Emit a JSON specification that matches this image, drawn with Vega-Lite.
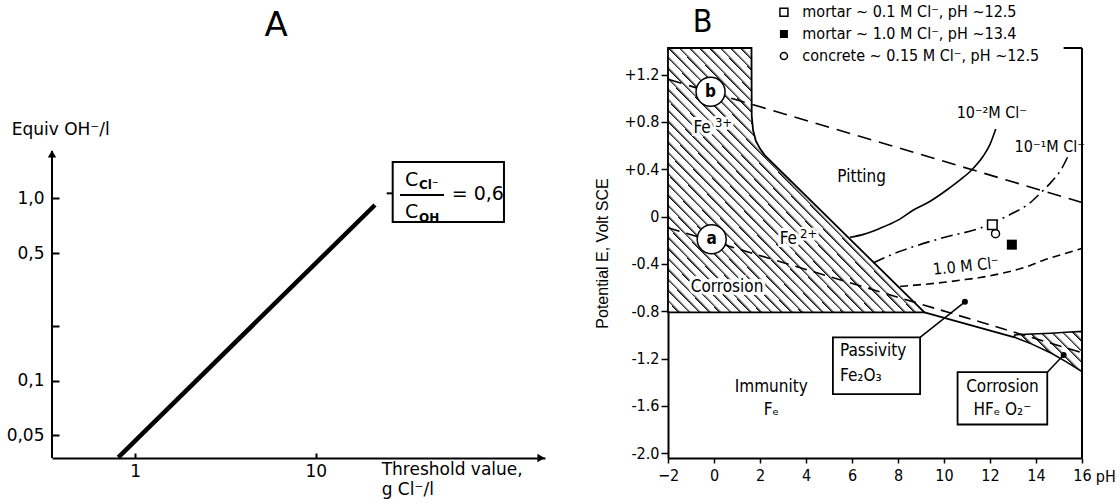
{
  "$schema": "https://vega.github.io/schema/vega-lite/v6.json",
  "background": "white",
  "padding": {"left": 6, "top": 4, "right": 2, "bottom": 2},
  "spacing": 123,
  "bounds": "flush",
  "config": {
    "view": {"stroke": null},
    "axis": {"grid": false, "domainColor": "black", "tickColor": "black", "labelColor": "black", "titleColor": "black"}
  },
  "datasets": {
    "threshold": [{"cl": 0.808, "oh": 0.0379}, {"cl": 21.27, "oh": 0.92}],
    "fe_region": [
      {"pH": -2, "E": 1.425}, {"pH": 1.63, "E": 1.425}, {"pH": 1.64, "E": 0.85}, {"pH": 1.7, "E": 0.73},
      {"pH": 1.82, "E": 0.64}, {"pH": 2.0, "E": 0.575}, {"pH": 2.2, "E": 0.52}, {"pH": 9.15, "E": -0.81}
    ],
    "hfeo2_region": [
      {"pH": 13.07, "top": -1.0, "bottom": -1.02}, {"pH": 13.8, "top": -0.993, "bottom": -1.075},
      {"pH": 14.67, "top": -0.985, "bottom": -1.155}, {"pH": 15.3, "top": -0.977, "bottom": -1.225},
      {"pH": 16, "top": -0.97, "bottom": -1.31}
    ],
    "fe_boundary_low": [{"pH": 9.15, "E": -0.81}, {"pH": 13.07, "E": -1.02}],
    "line_a": [{"pH": -2, "E": -0.095}, {"pH": 16, "E": -1.15}],
    "line_b": [{"pH": -2, "E": 1.16}, {"pH": 16, "E": 0.12}],
    "cl_0_01": [
      {"pH": 5.91, "E": -0.175}, {"pH": 6.5, "E": -0.15}, {"pH": 7.2, "E": -0.1}, {"pH": 8.0, "E": -0.03},
      {"pH": 8.67, "E": 0.056}, {"pH": 9.4, "E": 0.13}, {"pH": 10.12, "E": 0.225}, {"pH": 10.7, "E": 0.31},
      {"pH": 11.2, "E": 0.394}, {"pH": 11.7, "E": 0.51}, {"pH": 12.0, "E": 0.61}, {"pH": 12.25, "E": 0.74}
    ],
    "cl_0_1": [
      {"pH": 6.93, "E": -0.39}, {"pH": 8.0, "E": -0.3}, {"pH": 8.67, "E": -0.254}, {"pH": 10.12, "E": -0.17},
      {"pH": 11.57, "E": -0.097}, {"pH": 12.2, "E": -0.045}, {"pH": 13.0, "E": 0.03}, {"pH": 13.7, "E": 0.11},
      {"pH": 14.2, "E": 0.2}, {"pH": 14.7, "E": 0.3}, {"pH": 15.1, "E": 0.4}, {"pH": 15.38, "E": 0.506}
    ],
    "cl_1_0": [
      {"pH": 8.09, "E": -0.59}, {"pH": 9.0, "E": -0.575}, {"pH": 10.0, "E": -0.555}, {"pH": 11.0, "E": -0.53},
      {"pH": 11.57, "E": -0.515}, {"pH": 12.5, "E": -0.48}, {"pH": 13.5, "E": -0.43}, {"pH": 14.3, "E": -0.37},
      {"pH": 15.2, "E": -0.315}, {"pH": 16, "E": -0.27}
    ],
    "samples": [
      {"sample": "mortar 0.1 M", "pH": 12.1, "E": -0.068},
      {"sample": "mortar 1.0 M", "pH": 12.95, "E": -0.237},
      {"sample": "concrete 0.15 M", "pH": 12.24, "E": -0.144}
    ]
  },
  "hconcat": [
    {
      "width": 493,
      "height": 410,
      "data": {"values": [{}]},
      "layer": [
        {
          "data": {"name": "threshold"},
          "mark": {"type": "line", "color": "black", "strokeWidth": 4.5},
          "encoding": {
            "x": {"field": "cl", "type": "quantitative",
              "scale": {"type": "log", "domain": [0.347, 185.7], "nice": false},
              "axis": {"title": null, "values": [1, 10], "labelExpr": "toString(datum.value)", "labelFlush": false, "labelOverlap": false,
                "tickSize": -5, "labelPadding": 10, "labelFontSize": 17, "labelFont": "DejaVu Sans", "domainWidth": 2, "tickWidth": 2}},
            "y": {"field": "oh", "type": "quantitative",
              "scale": {"type": "log", "domain": [0.0376, 6.69], "nice": false},
              "axis": {"title": null, "values": [0.05, 0.1, 0.2, 0.5, 1],
                "labelExpr": "datum.value == 1 ? '1,0' : (datum.value == 0.2 ? '' : replace(toString(datum.value), '.', ','))",
                "labelOverlap": false, "domain": false, "tickSize": -7, "labelPadding": 15, "labelFontSize": 17, "labelFont": "DejaVu Sans", "tickWidth": 2}}
          }
        },
        {"mark": {"type": "rule", "color": "black", "strokeWidth": 2},
         "encoding": {"x": {"datum": 0.347}, "y": {"datum": 0.0376}, "y2": {"datum": 1.82}}},
        {"mark": {"type": "point", "shape": "triangle-up", "filled": true, "color": "black", "size": 70, "opacity": 1},
         "encoding": {"x": {"datum": 0.347}, "y": {"datum": 1.753}}},
        {"mark": {"type": "point", "shape": "triangle-right", "filled": true, "color": "black", "size": 70, "opacity": 1},
         "encoding": {"x": {"datum": 176.4}, "y": {"datum": 0.0376}}},
        {"mark": {"type": "rect", "fill": "white", "stroke": "black", "strokeWidth": 2},
         "encoding": {"x": {"datum": 26.66}, "x2": {"datum": 110.1}, "y": {"datum": 0.742}, "y2": {"datum": 1.584}}},
        {"mark": {"type": "rule", "color": "black", "strokeWidth": 2},
         "encoding": {"x": {"datum": 24.7}, "x2": {"datum": 26.66}, "y": {"datum": 1.066}}},
        {"mark": {"type": "rule", "color": "black", "strokeWidth": 2},
         "encoding": {"x": {"datum": 29.25}, "x2": {"datum": 51.25}, "y": {"datum": 1.044}}},
        {"mark": {"type": "text", "text": "C", "align": "left", "baseline": "middle", "font": "DejaVu Sans", "fontSize": 19},
         "encoding": {"x": {"datum": 31.2}, "y": {"datum": 1.262}}},
        {"mark": {"type": "text", "text": "Cl⁻", "align": "left", "baseline": "middle", "font": "DejaVu Sans", "fontSize": 12, "fontWeight": "bold"},
         "encoding": {"x": {"datum": 37.26}, "y": {"datum": 1.184}}},
        {"mark": {"type": "text", "text": "C", "align": "left", "baseline": "middle", "font": "DejaVu Sans", "fontSize": 19},
         "encoding": {"x": {"datum": 31.2}, "y": {"datum": 0.845}}},
        {"mark": {"type": "text", "text": "OH", "align": "left", "baseline": "middle", "font": "DejaVu Sans", "fontSize": 12, "fontWeight": "bold"},
         "encoding": {"x": {"datum": 37.26}, "y": {"datum": 0.78}}},
        {"mark": {"type": "text", "text": "= 0,6", "align": "left", "baseline": "middle", "font": "DejaVu Sans", "fontSize": 19},
         "encoding": {"x": {"datum": 56.53}, "y": {"datum": 1.057}}},
        {"mark": {"type": "text", "text": "Equiv OH⁻/l", "align": "left", "baseline": "middle", "font": "DejaVu Sans", "fontSize": 17},
         "encoding": {"x": {"datum": 0.2076}, "y": {"datum": 2.374}}},
        {"mark": {"type": "text", "text": "Threshold value,", "align": "left", "baseline": "middle", "font": "DejaVu Sans", "fontSize": 17},
         "encoding": {"x": {"datum": 23.17}, "y": {"datum": 0.0323}}},
        {"mark": {"type": "text", "text": "g Cl⁻/l", "align": "left", "baseline": "middle", "font": "DejaVu Sans", "fontSize": 17},
         "encoding": {"x": {"datum": 23.17}, "y": {"datum": 0.02509}}},
        {"mark": {"type": "text", "text": "A", "align": "center", "baseline": "middle", "font": "DejaVu Sans", "fontSize": 34},
         "encoding": {"x": {"datum": 6.03}, "y": {"datum": 8.89}}}
      ]
    },
    {
      "width": 414,
      "height": 410,
      "data": {"values": [{}]},
      "layer": [
        {
          "data": {"name": "fe_region"},
          "mark": {"type": "area", "stroke": "black", "strokeWidth": 1.8, "opacity": 1,
            "fill": {"gradient": "linear", "x1": 0, "y1": 1, "x2": 1, "y2": 0, "stops": [
              {"offset":0,"color":"#000"},{"offset":0.007,"color":"#fff"},{"offset":0.02,"color":"#fff"},
              {"offset":0.02,"color":"#000"},{"offset":0.027,"color":"#fff"},{"offset":0.04,"color":"#fff"},
              {"offset":0.04,"color":"#000"},{"offset":0.047,"color":"#fff"},{"offset":0.06,"color":"#fff"},
              {"offset":0.06,"color":"#000"},{"offset":0.067,"color":"#fff"},{"offset":0.08,"color":"#fff"},
              {"offset":0.08,"color":"#000"},{"offset":0.087,"color":"#fff"},{"offset":0.1,"color":"#fff"},
              {"offset":0.1,"color":"#000"},{"offset":0.107,"color":"#fff"},{"offset":0.12,"color":"#fff"},
              {"offset":0.12,"color":"#000"},{"offset":0.127,"color":"#fff"},{"offset":0.14,"color":"#fff"},
              {"offset":0.14,"color":"#000"},{"offset":0.147,"color":"#fff"},{"offset":0.16,"color":"#fff"},
              {"offset":0.16,"color":"#000"},{"offset":0.167,"color":"#fff"},{"offset":0.18,"color":"#fff"},
              {"offset":0.18,"color":"#000"},{"offset":0.187,"color":"#fff"},{"offset":0.2,"color":"#fff"},
              {"offset":0.2,"color":"#000"},{"offset":0.207,"color":"#fff"},{"offset":0.22,"color":"#fff"},
              {"offset":0.22,"color":"#000"},{"offset":0.227,"color":"#fff"},{"offset":0.24,"color":"#fff"},
              {"offset":0.24,"color":"#000"},{"offset":0.247,"color":"#fff"},{"offset":0.26,"color":"#fff"},
              {"offset":0.26,"color":"#000"},{"offset":0.267,"color":"#fff"},{"offset":0.28,"color":"#fff"},
              {"offset":0.28,"color":"#000"},{"offset":0.287,"color":"#fff"},{"offset":0.3,"color":"#fff"},
              {"offset":0.3,"color":"#000"},{"offset":0.307,"color":"#fff"},{"offset":0.32,"color":"#fff"},
              {"offset":0.32,"color":"#000"},{"offset":0.327,"color":"#fff"},{"offset":0.34,"color":"#fff"},
              {"offset":0.34,"color":"#000"},{"offset":0.347,"color":"#fff"},{"offset":0.36,"color":"#fff"},
              {"offset":0.36,"color":"#000"},{"offset":0.367,"color":"#fff"},{"offset":0.38,"color":"#fff"},
              {"offset":0.38,"color":"#000"},{"offset":0.387,"color":"#fff"},{"offset":0.4,"color":"#fff"},
              {"offset":0.4,"color":"#000"},{"offset":0.407,"color":"#fff"},{"offset":0.42,"color":"#fff"},
              {"offset":0.42,"color":"#000"},{"offset":0.427,"color":"#fff"},{"offset":0.44,"color":"#fff"},
              {"offset":0.44,"color":"#000"},{"offset":0.447,"color":"#fff"},{"offset":0.46,"color":"#fff"},
              {"offset":0.46,"color":"#000"},{"offset":0.467,"color":"#fff"},{"offset":0.48,"color":"#fff"},
              {"offset":0.48,"color":"#000"},{"offset":0.487,"color":"#fff"},{"offset":0.5,"color":"#fff"},
              {"offset":0.5,"color":"#000"},{"offset":0.507,"color":"#fff"},{"offset":0.52,"color":"#fff"},
              {"offset":0.52,"color":"#000"},{"offset":0.527,"color":"#fff"},{"offset":0.54,"color":"#fff"},
              {"offset":0.54,"color":"#000"},{"offset":0.547,"color":"#fff"},{"offset":0.56,"color":"#fff"},
              {"offset":0.56,"color":"#000"},{"offset":0.567,"color":"#fff"},{"offset":0.58,"color":"#fff"},
              {"offset":0.58,"color":"#000"},{"offset":0.587,"color":"#fff"},{"offset":0.6,"color":"#fff"},
              {"offset":0.6,"color":"#000"},{"offset":0.607,"color":"#fff"},{"offset":0.62,"color":"#fff"},
              {"offset":0.62,"color":"#000"},{"offset":0.627,"color":"#fff"},{"offset":0.64,"color":"#fff"},
              {"offset":0.64,"color":"#000"},{"offset":0.647,"color":"#fff"},{"offset":0.66,"color":"#fff"},
              {"offset":0.66,"color":"#000"},{"offset":0.667,"color":"#fff"},{"offset":0.68,"color":"#fff"},
              {"offset":0.68,"color":"#000"},{"offset":0.687,"color":"#fff"},{"offset":0.7,"color":"#fff"},
              {"offset":0.7,"color":"#000"},{"offset":0.707,"color":"#fff"},{"offset":0.72,"color":"#fff"},
              {"offset":0.72,"color":"#000"},{"offset":0.727,"color":"#fff"},{"offset":0.74,"color":"#fff"},
              {"offset":0.74,"color":"#000"},{"offset":0.747,"color":"#fff"},{"offset":0.76,"color":"#fff"},
              {"offset":0.76,"color":"#000"},{"offset":0.767,"color":"#fff"},{"offset":0.78,"color":"#fff"},
              {"offset":0.78,"color":"#000"},{"offset":0.787,"color":"#fff"},{"offset":0.8,"color":"#fff"},
              {"offset":0.8,"color":"#000"},{"offset":0.807,"color":"#fff"},{"offset":0.82,"color":"#fff"},
              {"offset":0.82,"color":"#000"},{"offset":0.827,"color":"#fff"},{"offset":0.84,"color":"#fff"},
              {"offset":0.84,"color":"#000"},{"offset":0.847,"color":"#fff"},{"offset":0.86,"color":"#fff"},
              {"offset":0.86,"color":"#000"},{"offset":0.867,"color":"#fff"},{"offset":0.88,"color":"#fff"},
              {"offset":0.88,"color":"#000"},{"offset":0.887,"color":"#fff"},{"offset":0.9,"color":"#fff"},
              {"offset":0.9,"color":"#000"},{"offset":0.907,"color":"#fff"},{"offset":0.92,"color":"#fff"},
              {"offset":0.92,"color":"#000"},{"offset":0.927,"color":"#fff"},{"offset":0.94,"color":"#fff"},
              {"offset":0.94,"color":"#000"},{"offset":0.947,"color":"#fff"},{"offset":0.96,"color":"#fff"},
              {"offset":0.96,"color":"#000"},{"offset":0.967,"color":"#fff"},{"offset":0.98,"color":"#fff"},
              {"offset":0.98,"color":"#000"},{"offset":0.987,"color":"#fff"},{"offset":1,"color":"#fff"}
            ]}},
          "encoding": {
            "x": {"field": "pH", "type": "quantitative",
              "scale": {"domain": [-2, 16], "nice": false, "zero": false},
              "axis": {"title": null, "values": [-2, 0, 2, 4, 6, 8, 10, 12, 14, 16], "labelFlush": false, "labelOverlap": false,
                "tickSize": 5, "labelPadding": 4, "labelFontSize": 16, "labelFont": "DejaVu Sans Condensed, Liberation Sans Narrow, sans-serif",
                "domainWidth": 2, "tickWidth": 1.5}},
            "y": {"field": "E", "type": "quantitative",
              "scale": {"domain": [-2.04, 1.425], "nice": false, "zero": false},
              "axis": {"title": "Potential E, Volt SCE", "values": [-2, -1.6, -1.2, -0.8, -0.4, 0, 0.4, 0.8, 1.2],
                "labelExpr": "datum.value > 0.01 ? '+' + format(datum.value, '.1f') : (datum.value < -0.01 ? '-' + format(-datum.value, '.1f') : '0')",
                "labelOverlap": false, "tickSize": 7, "labelPadding": 2, "labelFontSize": 16,
                "labelFont": "DejaVu Sans Condensed, Liberation Sans Narrow, sans-serif",
                "domainWidth": 2, "tickWidth": 1.5, "titleFont": "Liberation Sans", "titleFontSize": 16, "titleFontWeight": "normal", "titlePadding": 14}},
            "y2": {"datum": -0.81}
          }
        },
        {
          "data": {"name": "hfeo2_region"},
          "mark": {"type": "area", "stroke": "black", "strokeWidth": 1.5, "opacity": 1,
            "fill": {"gradient": "linear", "x1": 0, "y1": 1, "x2": 1.176, "y2": 0.294, "stops": [
              {"offset":0,"color":"#000"},{"offset":0.035,"color":"#fff"},{"offset":0.1,"color":"#fff"},
              {"offset":0.1,"color":"#000"},{"offset":0.135,"color":"#fff"},{"offset":0.2,"color":"#fff"},
              {"offset":0.2,"color":"#000"},{"offset":0.235,"color":"#fff"},{"offset":0.3,"color":"#fff"},
              {"offset":0.3,"color":"#000"},{"offset":0.335,"color":"#fff"},{"offset":0.4,"color":"#fff"},
              {"offset":0.4,"color":"#000"},{"offset":0.435,"color":"#fff"},{"offset":0.5,"color":"#fff"},
              {"offset":0.5,"color":"#000"},{"offset":0.535,"color":"#fff"},{"offset":0.6,"color":"#fff"},
              {"offset":0.6,"color":"#000"},{"offset":0.635,"color":"#fff"},{"offset":0.7,"color":"#fff"},
              {"offset":0.7,"color":"#000"},{"offset":0.735,"color":"#fff"},{"offset":0.8,"color":"#fff"},
              {"offset":0.8,"color":"#000"},{"offset":0.835,"color":"#fff"},{"offset":0.9,"color":"#fff"},
              {"offset":0.9,"color":"#000"},{"offset":0.935,"color":"#fff"},{"offset":1,"color":"#fff"}
            ]}},
          "encoding": {
            "x": {"field": "pH", "type": "quantitative"},
            "y": {"field": "top", "type": "quantitative"},
            "y2": {"field": "bottom"}
          }
        },
        {"data": {"name": "fe_boundary_low"}, "mark": {"type": "line", "color": "black", "strokeWidth": 1.8},
         "encoding": {"x": {"field": "pH", "type": "quantitative"}, "y": {"field": "E", "type": "quantitative"}}},
        {"data": {"name": "line_b"}, "mark": {"type": "line", "color": "black", "strokeWidth": 1.6, "strokeDash": [14, 8]},
         "encoding": {"x": {"field": "pH", "type": "quantitative"}, "y": {"field": "E", "type": "quantitative"}}},
        {"data": {"name": "line_a"}, "mark": {"type": "line", "color": "black", "strokeWidth": 1.6, "strokeDash": [12, 7]},
         "encoding": {"x": {"field": "pH", "type": "quantitative"}, "y": {"field": "E", "type": "quantitative"}}},
        {"data": {"name": "cl_0_01"}, "mark": {"type": "line", "color": "black", "strokeWidth": 1.6, "interpolate": "monotone"},
         "encoding": {"x": {"field": "pH", "type": "quantitative"}, "y": {"field": "E", "type": "quantitative"}}},
        {"data": {"name": "cl_0_1"}, "mark": {"type": "line", "color": "black", "strokeWidth": 1.6, "interpolate": "monotone", "strokeDash": [12, 5, 2, 5]},
         "encoding": {"x": {"field": "pH", "type": "quantitative"}, "y": {"field": "E", "type": "quantitative"}}},
        {"data": {"name": "cl_1_0"}, "mark": {"type": "line", "color": "black", "strokeWidth": 1.6, "interpolate": "monotone", "strokeDash": [8, 5]},
         "encoding": {"x": {"field": "pH", "type": "quantitative"}, "y": {"field": "E", "type": "quantitative"}}},
        {"mark": {"type": "rule", "color": "black", "strokeWidth": 2},
         "encoding": {"x": {"datum": 16}, "y": {"datum": -2.04}, "y2": {"datum": 1.425}}},
        {"mark": {"type": "rule", "color": "black", "strokeWidth": 2},
         "encoding": {"x": {"datum": 15.2}, "x2": {"datum": 16}, "y": {"datum": 1.425}}},
        {"mark": {"type": "text", "text": "Fe", "align": "center", "baseline": "middle", "font": "DejaVu Sans Condensed, Liberation Sans Narrow, sans-serif", "fontSize": 17, "stroke": "white", "strokeWidth": 6, "fill": "white"},
         "encoding": {"x": {"datum": -0.52}, "y": {"datum": 0.746}}},
        {"mark": {"type": "text", "text": "3+", "align": "left", "baseline": "middle", "font": "DejaVu Sans Condensed, Liberation Sans Narrow, sans-serif", "fontSize": 13, "stroke": "white", "strokeWidth": 5, "fill": "white"},
         "encoding": {"x": {"datum": 0.04}, "y": {"datum": 0.79}}},
        {"mark": {"type": "text", "text": "Fe", "align": "center", "baseline": "middle", "font": "DejaVu Sans Condensed, Liberation Sans Narrow, sans-serif", "fontSize": 17},
         "encoding": {"x": {"datum": -0.52}, "y": {"datum": 0.746}}},
        {"mark": {"type": "text", "text": "3+", "align": "left", "baseline": "middle", "font": "DejaVu Sans Condensed, Liberation Sans Narrow, sans-serif", "fontSize": 13},
         "encoding": {"x": {"datum": 0.04}, "y": {"datum": 0.79}}},
        {"mark": {"type": "text", "text": "Fe", "align": "center", "baseline": "middle", "font": "DejaVu Sans Condensed, Liberation Sans Narrow, sans-serif", "fontSize": 17, "stroke": "white", "strokeWidth": 6, "fill": "white"},
         "encoding": {"x": {"datum": 3.23}, "y": {"datum": -0.19}}},
        {"mark": {"type": "text", "text": "2+", "align": "left", "baseline": "middle", "font": "DejaVu Sans Condensed, Liberation Sans Narrow, sans-serif", "fontSize": 13, "stroke": "white", "strokeWidth": 5, "fill": "white"},
         "encoding": {"x": {"datum": 3.74}, "y": {"datum": -0.146}}},
        {"mark": {"type": "text", "text": "Fe", "align": "center", "baseline": "middle", "font": "DejaVu Sans Condensed, Liberation Sans Narrow, sans-serif", "fontSize": 17},
         "encoding": {"x": {"datum": 3.23}, "y": {"datum": -0.19}}},
        {"mark": {"type": "text", "text": "2+", "align": "left", "baseline": "middle", "font": "DejaVu Sans Condensed, Liberation Sans Narrow, sans-serif", "fontSize": 13},
         "encoding": {"x": {"datum": 3.74}, "y": {"datum": -0.146}}},
        {"mark": {"type": "text", "text": "Corrosion", "align": "center", "baseline": "middle", "font": "DejaVu Sans Condensed, Liberation Sans Narrow, sans-serif", "fontSize": 17, "stroke": "white", "strokeWidth": 6, "fill": "white"},
         "encoding": {"x": {"datum": 0.57}, "y": {"datum": -0.592}}},
        {"mark": {"type": "text", "text": "Corrosion", "align": "center", "baseline": "middle", "font": "DejaVu Sans Condensed, Liberation Sans Narrow, sans-serif", "fontSize": 17},
         "encoding": {"x": {"datum": 0.57}, "y": {"datum": -0.592}}},
        {"mark": {"type": "text", "text": "Pitting", "align": "center", "baseline": "middle", "font": "DejaVu Sans Condensed, Liberation Sans Narrow, sans-serif", "fontSize": 17},
         "encoding": {"x": {"datum": 6.42}, "y": {"datum": 0.339}}},
        {"mark": {"type": "text", "text": "Immunity\nFₑ", "lineBreak": "\n", "lineHeight": 23, "align": "center", "baseline": "middle", "font": "DejaVu Sans Condensed, Liberation Sans Narrow, sans-serif", "fontSize": 17},
         "encoding": {"x": {"datum": 2.49}, "y": {"datum": -1.437}}},
        {"mark": {"type": "text", "text": "10⁻²M Cl⁻", "align": "left", "baseline": "middle", "font": "DejaVu Sans Condensed, Liberation Sans Narrow, sans-serif", "fontSize": 16},
         "encoding": {"x": {"datum": 10.55}, "y": {"datum": 0.876}}},
        {"mark": {"type": "text", "text": "10⁻¹M Cl⁻", "align": "left", "baseline": "middle", "font": "DejaVu Sans Condensed, Liberation Sans Narrow, sans-serif", "fontSize": 16},
         "encoding": {"x": {"datum": 13.07}, "y": {"datum": 0.59}}},
        {"mark": {"type": "text", "text": "1.0 M Cl⁻", "align": "left", "baseline": "middle", "angle": 354, "font": "DejaVu Sans Condensed, Liberation Sans Narrow, sans-serif", "fontSize": 16},
         "encoding": {"x": {"datum": 9.52}, "y": {"datum": -0.45}}},
        {"mark": {"type": "point", "shape": "circle", "size": 841, "fill": "white", "stroke": "black", "strokeWidth": 1.5, "opacity": 1},
         "encoding": {"x": {"datum": -0.1}, "y": {"datum": -0.192}}},
        {"mark": {"type": "point", "shape": "circle", "size": 841, "fill": "white", "stroke": "black", "strokeWidth": 1.5, "opacity": 1},
         "encoding": {"x": {"datum": -0.15}, "y": {"datum": 1.056}}},
        {"mark": {"type": "text", "text": "a", "align": "center", "baseline": "middle", "font": "DejaVu Sans Condensed, Liberation Sans Narrow, sans-serif", "fontSize": 17, "fontWeight": "bold"},
         "encoding": {"x": {"datum": -0.1}, "y": {"datum": -0.192}}},
        {"mark": {"type": "text", "text": "b", "align": "center", "baseline": "middle", "font": "DejaVu Sans Condensed, Liberation Sans Narrow, sans-serif", "fontSize": 17, "fontWeight": "bold"},
         "encoding": {"x": {"datum": -0.15}, "y": {"datum": 1.056}}},
        {"mark": {"type": "rule", "color": "black", "strokeWidth": 1.5},
         "encoding": {"x": {"datum": 8.96}, "x2": {"datum": 10.91}, "y": {"datum": -1.02}, "y2": {"datum": -0.72}}},
        {"mark": {"type": "rule", "color": "black", "strokeWidth": 1.5},
         "encoding": {"x": {"datum": 14.49}, "x2": {"datum": 15.2}, "y": {"datum": -1.315}, "y2": {"datum": -1.17}}},
        {"mark": {"type": "point", "shape": "circle", "size": 36, "filled": true, "color": "black", "opacity": 1},
         "encoding": {"x": {"datum": 10.91}, "y": {"datum": -0.72}}},
        {"mark": {"type": "point", "shape": "circle", "size": 36, "filled": true, "color": "black", "opacity": 1},
         "encoding": {"x": {"datum": 15.2}, "y": {"datum": -1.17}}},
        {"mark": {"type": "rect", "fill": "white", "stroke": "black", "strokeWidth": 1.8},
         "encoding": {"x": {"datum": 5.17}, "x2": {"datum": 8.96}, "y": {"datum": -1.02}, "y2": {"datum": -1.5}}},
        {"mark": {"type": "rect", "fill": "white", "stroke": "black", "strokeWidth": 1.8},
         "encoding": {"x": {"datum": 10.59}, "x2": {"datum": 14.49}, "y": {"datum": -1.315}, "y2": {"datum": -1.757}}},
        {"mark": {"type": "text", "text": "Passivity\nFe₂O₃", "lineBreak": "\n", "lineHeight": 25, "align": "left", "baseline": "middle", "font": "DejaVu Sans Condensed, Liberation Sans Narrow, sans-serif", "fontSize": 17},
         "encoding": {"x": {"datum": 5.48}, "y": {"datum": -1.138}}},
        {"mark": {"type": "text", "text": "Corrosion\nHFₑ O₂⁻", "lineBreak": "\n", "lineHeight": 23, "align": "center", "baseline": "middle", "font": "DejaVu Sans Condensed, Liberation Sans Narrow, sans-serif", "fontSize": 17},
         "encoding": {"x": {"datum": 12.54}, "y": {"datum": -1.437}}},
        {"data": {"name": "samples"}, "transform": [{"filter": "datum.sample == 'mortar 0.1 M'"}],
         "mark": {"type": "point", "shape": "square", "size": 90, "fill": "white", "stroke": "black", "strokeWidth": 1.5, "opacity": 1},
         "encoding": {"x": {"field": "pH", "type": "quantitative"}, "y": {"field": "E", "type": "quantitative"}}},
        {"data": {"name": "samples"}, "transform": [{"filter": "datum.sample == 'concrete 0.15 M'"}],
         "mark": {"type": "point", "shape": "circle", "size": 64, "fill": "white", "stroke": "black", "strokeWidth": 1.5, "opacity": 1},
         "encoding": {"x": {"field": "pH", "type": "quantitative"}, "y": {"field": "E", "type": "quantitative"}}},
        {"data": {"name": "samples"}, "transform": [{"filter": "datum.sample == 'mortar 1.0 M'"}],
         "mark": {"type": "point", "shape": "square", "size": 100, "filled": true, "color": "black", "opacity": 1},
         "encoding": {"x": {"field": "pH", "type": "quantitative"}, "y": {"field": "E", "type": "quantitative"}}},
        {"mark": {"type": "point", "shape": "square", "size": 64, "fill": "white", "stroke": "black", "strokeWidth": 1.5, "opacity": 1},
         "encoding": {"x": {"datum": 3.04}, "y": {"datum": 1.727}}},
        {"mark": {"type": "point", "shape": "square", "size": 64, "filled": true, "color": "black", "opacity": 1},
         "encoding": {"x": {"datum": 3.04}, "y": {"datum": 1.543}}},
        {"mark": {"type": "point", "shape": "circle", "size": 50, "fill": "white", "stroke": "black", "strokeWidth": 1.5, "opacity": 1},
         "encoding": {"x": {"datum": 3.04}, "y": {"datum": 1.357}}},
        {"mark": {"type": "text", "text": "mortar ~ 0.1 M  Cl⁻, pH ~12.5", "align": "left", "baseline": "middle", "font": "DejaVu Sans Condensed, Liberation Sans Narrow, sans-serif", "fontSize": 16},
         "encoding": {"x": {"datum": 3.84}, "y": {"datum": 1.727}}},
        {"mark": {"type": "text", "text": "mortar ~ 1.0 M  Cl⁻, pH ~13.4", "align": "left", "baseline": "middle", "font": "DejaVu Sans Condensed, Liberation Sans Narrow, sans-serif", "fontSize": 16},
         "encoding": {"x": {"datum": 3.84}, "y": {"datum": 1.543}}},
        {"mark": {"type": "text", "text": "concrete ~ 0.15 M Cl⁻, pH ~12.5", "align": "left", "baseline": "middle", "font": "DejaVu Sans Condensed, Liberation Sans Narrow, sans-serif", "fontSize": 16},
         "encoding": {"x": {"datum": 3.84}, "y": {"datum": 1.357}}},
        {"mark": {"type": "text", "text": "B", "align": "center", "baseline": "middle", "font": "DejaVu Sans Condensed, Liberation Sans Narrow, sans-serif", "fontSize": 32},
         "encoding": {"x": {"datum": -0.5}, "y": {"datum": 1.645}}},
        {"mark": {"type": "text", "text": "pH", "align": "left", "baseline": "middle", "font": "DejaVu Sans Condensed, Liberation Sans Narrow, sans-serif", "fontSize": 16},
         "encoding": {"x": {"datum": 16.6}, "y": {"datum": -2.198}}}
      ]
    }
  ]
}
